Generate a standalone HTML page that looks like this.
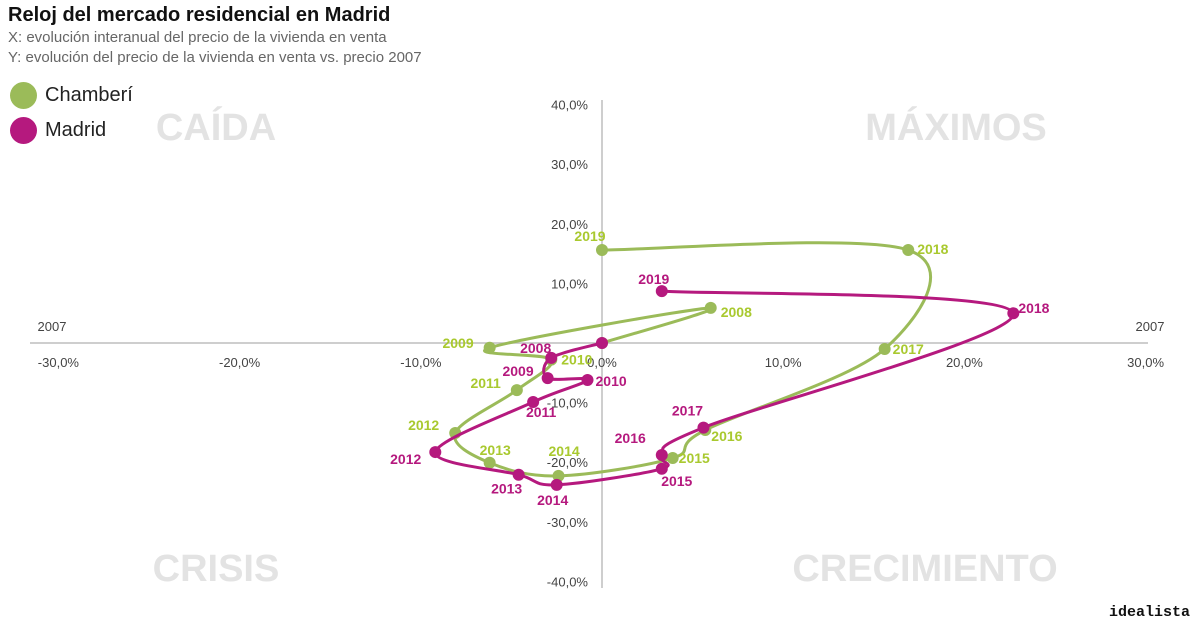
<!DOCTYPE html>
<html><head><meta charset="utf-8"><style>
body{margin:0;width:1200px;height:627px;background:#fff;font-family:"Liberation Sans",sans-serif;overflow:hidden;position:relative}
.t{position:absolute;white-space:nowrap}
</style></head><body>
<div class="t" style="left:8px;top:4px;font-size:20px;font-weight:bold;color:#111">Reloj del mercado residencial en Madrid</div>
<div class="t" style="left:8px;top:29px;font-size:15px;color:#666">X: evolución interanual del precio de la vivienda en venta</div>
<div class="t" style="left:8px;top:49px;font-size:15px;color:#666">Y: evolución del precio de la vivienda en venta vs. precio 2007</div>
<div class="t" style="left:10px;top:82px;font-size:20px;color:#222"><span style="display:inline-block;width:27px;height:27px;border-radius:50%;background:#9bbb59;vertical-align:middle;margin-right:8px"></span>Chamberí</div>
<div class="t" style="left:10px;top:117px;font-size:20px;color:#222"><span style="display:inline-block;width:27px;height:27px;border-radius:50%;background:#b5197e;vertical-align:middle;margin-right:8px"></span>Madrid</div>
<div class="t" style="right:10px;top:604px;font-size:15px;font-weight:bold;font-family:'Liberation Mono',monospace;color:#111">idealista</div>
<svg id="c" width="1200" height="627" style="position:absolute;left:0;top:0"></svg>
<script>
const xTicks=[-30,-20,-10,0,10,20,30];
const yTicks=[40,30,20,10,0,-10,-20,-30,-40];
const years=[2007,2008,2009,2010,2011,2012,2013,2014,2015,2016,2017,2018,2019];
const chamX=[0,6.0,-6.2,-2.8,-4.7,-8.1,-6.2,-2.4,3.9,5.7,15.6,16.9,0];
const chamY=[0,5.9,-0.8,-2.8,-7.9,-15.1,-20.1,-22.3,-19.3,-14.6,-1.0,15.6,15.6];
const madX=[0,-2.8,-3.0,-0.8,-3.8,-9.2,-4.6,-2.5,3.3,3.3,5.6,22.7,3.3];
const madY=[0,-2.5,-5.9,-6.2,-9.9,-18.3,-22.1,-23.8,-21.1,-18.8,-14.2,5.0,8.7];
const sx=v=>602+v*18.12, sy=v=>343-v*5.96;
const svg=document.getElementById('c');const NS='http://www.w3.org/2000/svg';
function mk(t,a,p){const e=document.createElementNS(NS,t);for(const k in a)e.setAttribute(k,a[k]);(p||svg).appendChild(e);return e;}
// quadrant words
[['CAÍDA',216,140,'quadrant-caida'],['MÁXIMOS',956,140,'quadrant-maximos'],['CRISIS',216,581,'quadrant-crisis'],['CRECIMIENTO',925,581,'quadrant-crecimiento']].forEach(q=>{
const e=mk('text',{x:q[1],y:q[2],'text-anchor':'middle','font-size':38,'font-weight':'bold',fill:'#e3e3e3'});e.textContent=q[0];

});
// axes
const xa=mk('line',{x1:30,x2:1148,y1:sy(0),y2:sy(0),stroke:'#bdbdbd','stroke-width':1.5});


const ya=mk('line',{x1:602,x2:602,y1:100,y2:588,stroke:'#bdbdbd','stroke-width':1.5});


xTicks.forEach(v=>{const e=mk('text',{x:sx(v),y:367,'text-anchor':'middle','font-size':13,fill:'#444'});e.textContent=v.toFixed(1).replace('.',',')+'%';

});
yTicks.forEach(v=>{if(v===0)return;const e=mk('text',{x:588,y:sy(v)+5,'text-anchor':'end','font-size':13,fill:'#444'});e.textContent=v.toFixed(1).replace('.',',')+'%';

});
[['2007',52,'x-axis-left-label'],['2007',1150,'x-axis-right-label']].forEach(a=>{const e=mk('text',{x:a[1],y:331,'text-anchor':'middle','font-size':13,fill:'#444'});e.textContent=a[0];

});
function path(xs,ys){const p=xs.map((x,i)=>[sx(x),sy(ys[i])]);let d='M'+p[0];
for(let i=0;i<p.length-1;i++){const p0=p[Math.max(0,i-1)],p1=p[i],p2=p[i+1],p3=p[Math.min(p.length-1,i+2)];
const c1=[p1[0]+(p2[0]-p0[0])/6,p1[1]+(p2[1]-p0[1])/6],c2=[p2[0]-(p3[0]-p1[0])/6,p2[1]-(p3[1]-p1[1])/6];d+=' C'+c1+' '+c2+' '+p2;}return d;}
function series(xs,ys,col,lc,name,lab){
const pe=mk('path',{d:path(xs,ys),fill:'none',stroke:col,'stroke-width':3});


xs.forEach((x,i)=>{const c=mk('circle',{cx:sx(x),cy:sy(ys[i]),r:6,fill:col});


if(i===0)return;const o=lab[i];
const t=mk('text',{x:sx(x)+o[0],y:sy(ys[i])+o[1],'text-anchor':o[2],'font-size':14,'font-weight':'bold',fill:lc});t.textContent=years[i];

});}
const chamLab=[null,[10,9,'start'],[-16,0,'end'],[10,5,'start'],[-16,-2,'end'],[-16,-3,'end'],[-10,-8,'start'],[-10,-20,'start'],[6,5,'start'],[6,11,'start'],[8,5,'start'],[9,4,'start'],[-12,-9,'middle']];
const madLab=[null,[0,-5,'end'],[-14,-2,'end'],[8,6,'start'],[8,15,'middle'],[-14,12,'end'],[-12,19,'middle'],[-4,20,'middle'],[15,17,'middle'],[-16,-12,'end'],[-16,-12,'middle'],[5,0,'start'],[-8,-7,'middle']];
series(chamX,chamY,'#9bbb59','#a9c92f','chamberi',chamLab);
series(madX,madY,'#b5197e','#b5197e','madrid',madLab);
</script>
</body></html>
